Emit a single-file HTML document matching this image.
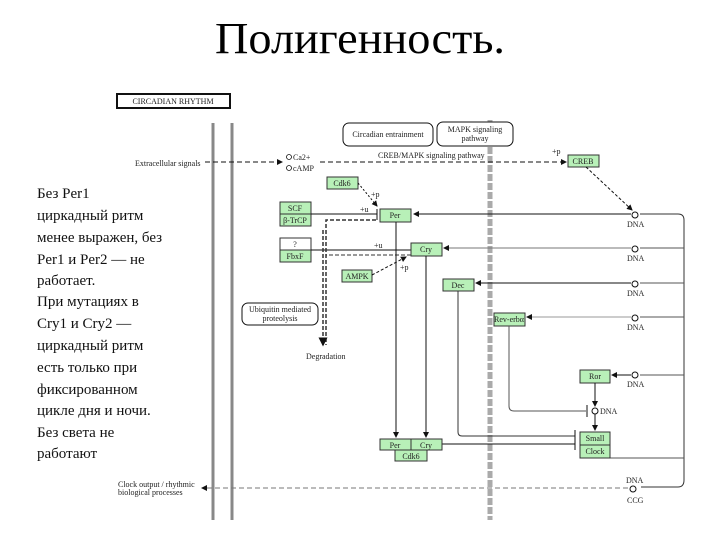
<!DOCTYPE html>
<html><head><meta charset="utf-8"><style>
html,body{margin:0;padding:0;background:#fff;}
svg{display:block;}
.t{font-family:"Liberation Serif",serif;}
.s{font-family:"Liberation Serif",serif;font-size:8px;fill:#222;}
.g{fill:#b8f0b8;stroke:#333;stroke-width:1;}
</style></head><body>
<svg width="720" height="540" viewBox="0 0 720 540" xmlns="http://www.w3.org/2000/svg">
<defs>
<marker id="a" markerWidth="6" markerHeight="6" refX="5" refY="3" orient="auto"><path d="M0,0 L6,3 L0,6z" fill="#111"/></marker>
</defs>
<text class="t" x="360" y="53" font-size="44" text-anchor="middle" textLength="290" lengthAdjust="spacingAndGlyphs">Полигенность.</text>

<!-- circadian header -->
<rect x="117" y="94" width="113" height="14" fill="#fff" stroke="#111" stroke-width="2"/>
<text class="s" x="173" y="104" text-anchor="middle" font-size="8">CIRCADIAN RHYTHM</text>

<!-- gray verticals -->
<line x1="213" y1="123" x2="213" y2="520" stroke="#888" stroke-width="3"/>
<line x1="232" y1="123" x2="232" y2="520" stroke="#888" stroke-width="3"/>
<line x1="490" y1="120" x2="490" y2="520" stroke="#aaa" stroke-width="5" stroke-dasharray="7,2"/>

<!-- left text -->
<g class="t" font-size="15" fill="#111">
<text x="37" y="198">Без Per1</text>
<text x="37" y="220">циркадный ритм</text>
<text x="37" y="242">менее выражен, без</text>
<text x="37" y="264">Per1 и Per2 — не</text>
<text x="37" y="285">работает.</text>
<text x="37" y="306">При мутациях в</text>
<text x="37" y="328">Cry1 и Cry2 —</text>
<text x="37" y="350">циркадный ритм</text>
<text x="37" y="372">есть только при</text>
<text x="37" y="394">фиксированном</text>
<text x="37" y="415">цикле дня и ночи.</text>
<text x="37" y="437">Без света не</text>
<text x="37" y="458">работают</text>
</g>

<!-- top signals -->
<text class="s" x="135" y="166" font-size="7">Extracellular signals</text>
<line x1="205" y1="162" x2="282" y2="162" stroke="#111" stroke-dasharray="5,3" marker-end="url(#a)"/>
<circle cx="289" cy="157" r="2.5" fill="none" stroke="#111" stroke-width="0.8"/>
<text class="s" x="293" y="160" font-size="7">Ca2+</text>
<circle cx="289" cy="168" r="2.5" fill="none" stroke="#111" stroke-width="0.8"/>
<text class="s" x="293" y="171" font-size="7">cAMP</text>
<line x1="320" y1="162" x2="566" y2="162" stroke="#111" stroke-dasharray="5,3" marker-end="url(#a)"/>
<text class="s" x="378" y="158" font-size="7">CREB/MAPK signaling pathway</text>
<text class="s" x="552" y="154">+p</text>
<rect x="343" y="123" width="90" height="23" rx="6" fill="#fff" stroke="#111"/>
<text class="s" x="388" y="137" text-anchor="middle" font-size="7">Circadian entrainment</text>
<rect x="437" y="122" width="76" height="24" rx="6" fill="#fff" stroke="#111"/>
<text class="s" x="475" y="132" text-anchor="middle" font-size="7">MAPK signaling</text>
<text class="s" x="475" y="141" text-anchor="middle" font-size="7">pathway</text>
<rect class="g" x="568" y="155" width="31" height="12"/>
<text class="s" x="583" y="164" text-anchor="middle">CREB</text>
<line x1="586" y1="167" x2="632" y2="210" stroke="#111" stroke-dasharray="3,2" marker-end="url(#a)"/>

<!-- right loop -->
<path d="M640,214 H678 Q684,214 684,220 V480 Q684,487 678,487 H641" fill="none" stroke="#333"/>
<path d="M684,248 H640 M684,283 H640 M684,317 H640 M684,375 H640 M684,458 H610" fill="none" stroke="#555"/>
<g fill="none" stroke="#111" stroke-width="1">
<circle cx="635" cy="215" r="3"/><circle cx="635" cy="249" r="3"/><circle cx="635" cy="284" r="3"/><circle cx="635" cy="318" r="3"/><circle cx="635" cy="375" r="3"/><circle cx="633" cy="489" r="3"/><circle cx="595" cy="411" r="3"/>
</g>
<g class="s" font-size="7">
<text x="627" y="227">DNA</text><text x="627" y="261">DNA</text><text x="627" y="296">DNA</text><text x="627" y="330">DNA</text><text x="627" y="387">DNA</text><text x="600" y="414">DNA</text><text x="626" y="483">DNA</text><text x="627" y="503">CCG</text>
</g>

<!-- horizontals to genes -->
<line x1="631" y1="214" x2="414" y2="214" stroke="#111" marker-end="url(#a)"/>
<line x1="631" y1="248" x2="444" y2="248" stroke="#777" marker-end="url(#a)"/>
<line x1="631" y1="283" x2="476" y2="283" stroke="#111" marker-end="url(#a)"/>
<line x1="631" y1="317" x2="527" y2="317" stroke="#999" marker-end="url(#a)"/>
<line x1="631" y1="375" x2="612" y2="375" stroke="#111" marker-end="url(#a)"/>

<!-- left gene boxes -->
<rect class="g" x="327" y="177" width="31" height="12"/><text class="s" x="342" y="186" text-anchor="middle">Cdk6</text>
<line x1="358" y1="183" x2="377" y2="206" stroke="#111" stroke-dasharray="2,2" marker-end="url(#a)"/>
<text class="s" x="371" y="197">+p</text>
<rect class="g" x="280" y="202" width="31" height="12"/><text class="s" x="295" y="211" text-anchor="middle">SCF</text>
<rect class="g" x="280" y="214" width="31" height="12"/><text class="s" x="295" y="223" text-anchor="middle">β-TrCP</text>
<line x1="311" y1="214" x2="377" y2="214" stroke="#111"/><line x1="377" y1="209" x2="377" y2="220" stroke="#111"/>
<text class="s" x="360" y="212">+u</text>
<rect class="g" x="380" y="209" width="31" height="13"/><text class="s" x="395" y="218" text-anchor="middle">Per</text>
<rect x="280" y="238" width="31" height="12" fill="#fff" stroke="#333"/><text class="s" x="295" y="247" text-anchor="middle">?</text>
<rect class="g" x="280" y="250" width="31" height="12"/><text class="s" x="295" y="259" text-anchor="middle">FbxF</text>
<line x1="311" y1="250" x2="411" y2="250" stroke="#111"/>
<text class="s" x="374" y="248">+u</text>
<rect class="g" x="411" y="243" width="31" height="13"/><text class="s" x="426" y="252" text-anchor="middle">Cry</text>
<rect class="g" x="342" y="270" width="30" height="12"/><text class="s" x="357" y="279" text-anchor="middle">AMPK</text>
<line x1="372" y1="275" x2="406" y2="257" stroke="#111" stroke-dasharray="3,2" marker-end="url(#a)"/>
<text class="s" x="400" y="270">+p</text>
<rect class="g" x="443" y="279" width="31" height="12"/><text class="s" x="458" y="288" text-anchor="middle">Dec</text>

<!-- degradation -->
<path d="M376,220 H326 V345" fill="none" stroke="#333" stroke-width="1.5" stroke-dasharray="4,2"/>
<path d="M411,255 H326" fill="none" stroke="#333" stroke-dasharray="4,2"/>
<line x1="323" y1="230" x2="323" y2="345" stroke="#333" stroke-width="1.5" stroke-dasharray="4,2" marker-end="url(#a)"/>
<text class="s" x="306" y="359" font-size="7">Degradation</text>
<rect x="242" y="303" width="76" height="22" rx="6" fill="#fff" stroke="#111"/>
<text class="s" x="280" y="312" text-anchor="middle" font-size="7">Ubiquitin mediated</text>
<text class="s" x="280" y="321" text-anchor="middle" font-size="7">proteolysis</text>

<!-- verticals down -->
<line x1="396" y1="222" x2="396" y2="437" stroke="#111" marker-end="url(#a)"/>
<line x1="426" y1="256" x2="426" y2="437" stroke="#111" marker-end="url(#a)"/>
<path d="M458,291 V432 Q458,436 462,436 H575" fill="none" stroke="#333"/>
<line x1="575" y1="430" x2="575" y2="442" stroke="#111"/>
<line x1="442" y1="444" x2="575" y2="444" stroke="#111"/>
<line x1="575" y1="440" x2="575" y2="450" stroke="#111"/>
<rect class="g" x="380" y="439" width="31" height="11"/><text class="s" x="395" y="448" text-anchor="middle">Per</text>
<rect class="g" x="411" y="439" width="31" height="11"/><text class="s" x="426" y="448" text-anchor="middle">Cry</text>
<rect class="g" x="395" y="450" width="32" height="11"/><text class="s" x="411" y="459" text-anchor="middle">Cdk6</text>

<!-- Rev-erb / Ror / Clock -->
<rect class="g" x="494" y="313" width="31" height="13"/><text class="s" x="509" y="322" text-anchor="middle" font-size="7">Rev-erbα</text>
<path d="M509,326 V406 Q509,411 514,411 H586" fill="none" stroke="#555"/>
<line x1="587" y1="405" x2="587" y2="417" stroke="#111"/>
<rect class="g" x="580" y="370" width="30" height="13"/><text class="s" x="595" y="379" text-anchor="middle">Ror</text>
<line x1="595" y1="383" x2="595" y2="406" stroke="#111" marker-end="url(#a)"/>
<line x1="595" y1="414" x2="595" y2="430" stroke="#111" marker-end="url(#a)"/>
<rect class="g" x="580" y="432" width="30" height="13"/><text class="s" x="595" y="441" text-anchor="middle">Small</text>
<rect class="g" x="580" y="445" width="30" height="13"/><text class="s" x="595" y="454" text-anchor="middle">Clock</text>

<!-- bottom output -->
<text class="s" x="118" y="487" font-size="7">Clock output / rhythmic</text>
<text class="s" x="118" y="495" font-size="7">biological processes</text>
<line x1="628" y1="488" x2="202" y2="488" stroke="#777" stroke-dasharray="5,3" marker-end="url(#a)"/>
</svg>
</body></html>
